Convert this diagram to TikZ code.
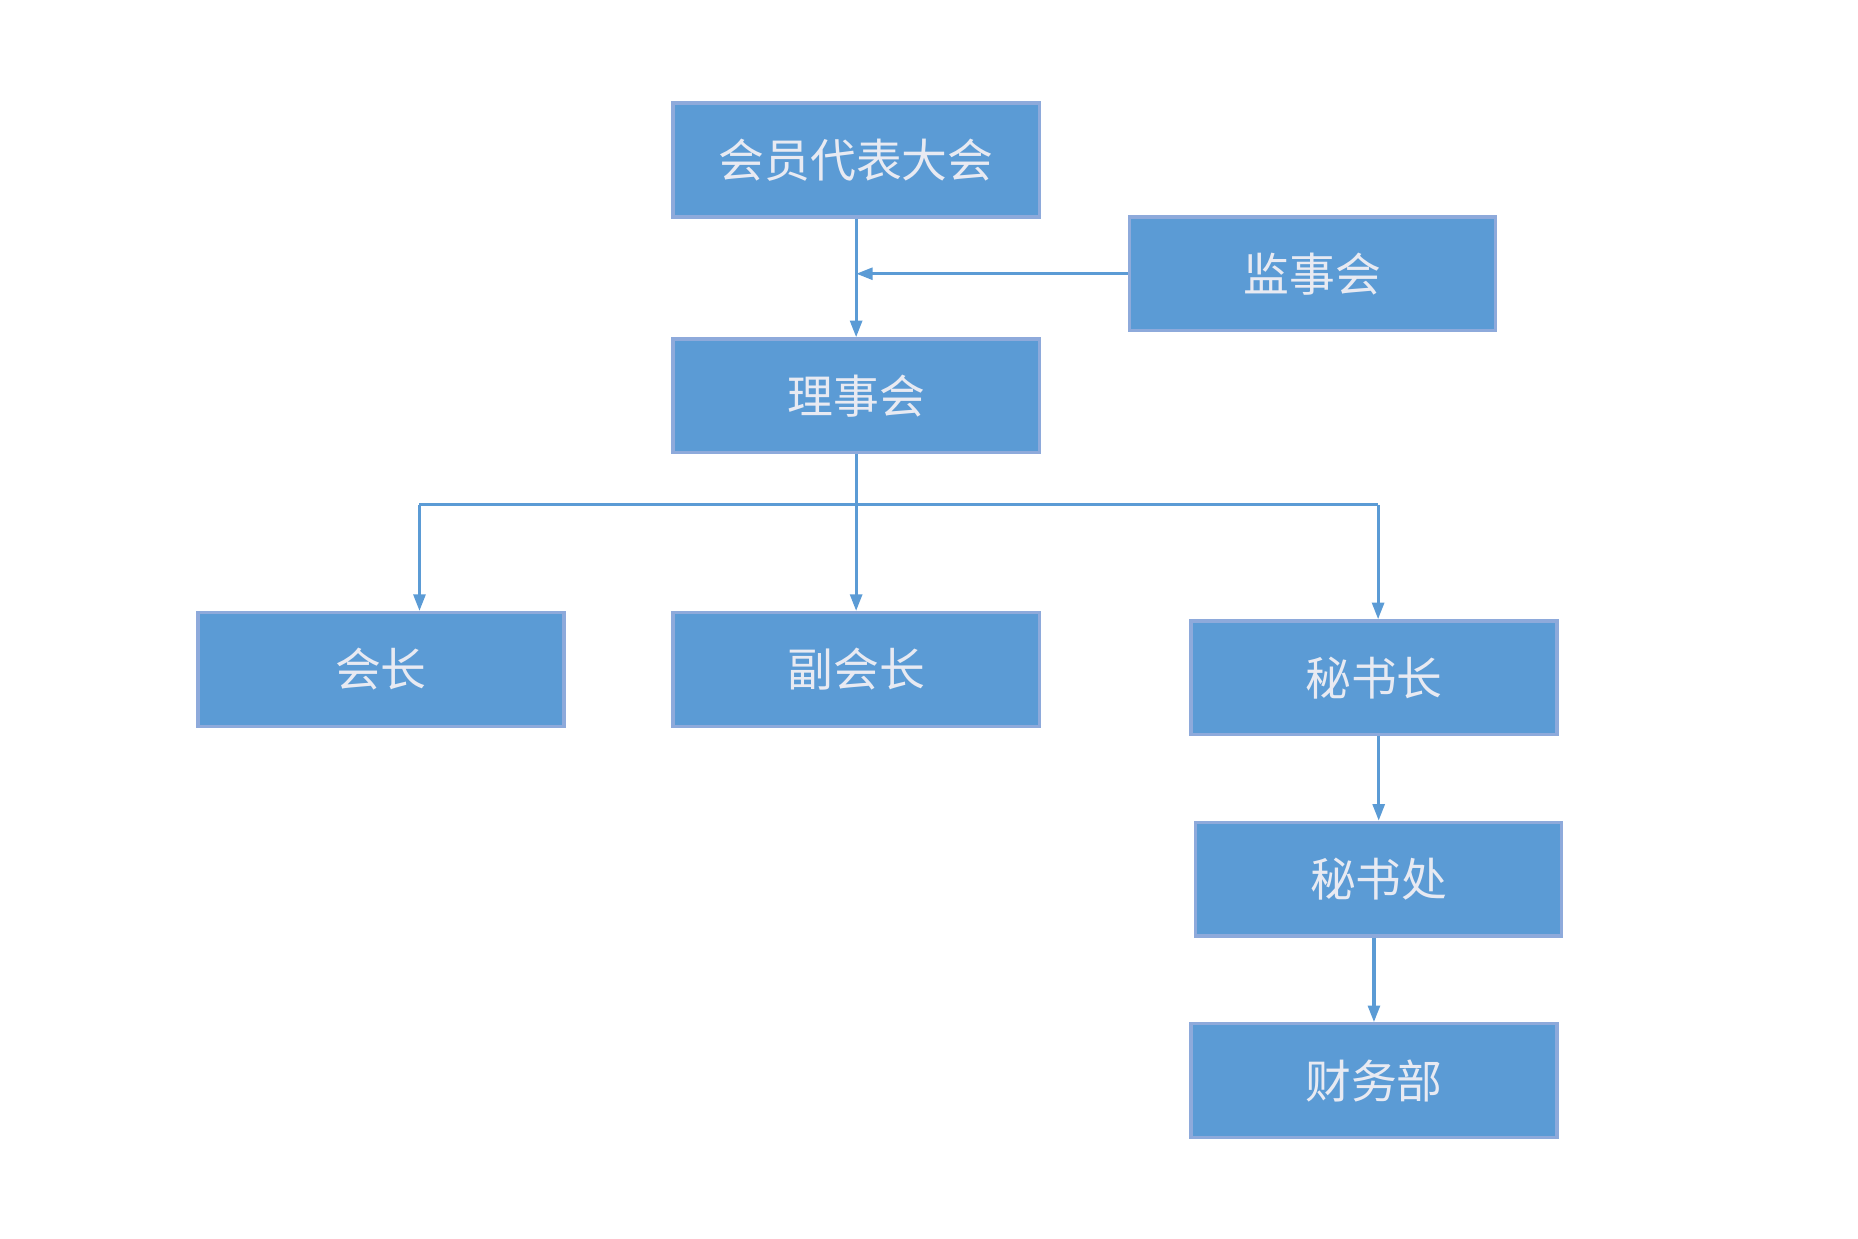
\documentclass[tikz,border=0pt]{standalone}
\usepackage{fontspec}
\setmainfont{Noto Sans CJK SC}
\usetikzlibrary{arrows.meta}
\definecolor{boxblue}{HTML}{5B9BD5}
\definecolor{boxedge}{HTML}{8EAADB}
\definecolor{boxtext}{HTML}{E8EAF2}
\tikzset{
unit/.style={draw=boxedge,line width=1.6pt,fill=boxblue,text=boxtext,
  minimum width=6.18cm,minimum height=1.92cm,inner sep=0pt,
  font=\fontsize{22}{26}\selectfont},
link/.style={draw=boxblue,line width=1.5pt,-{Triangle[length=0.28cm,width=0.2cm]}},
plain/.style={draw=boxblue,line width=1.5pt}
}
\begin{document}
\begin{tikzpicture}[x=0.02cm,y=-0.02cm]
\useasboundingbox (0,0) rectangle (1568,1045);

\node[unit] (dahui) at (722.5,135) {会员代表大会};
\node[unit] (jianshi) at (1107.5,231) {监事会};
\node[unit] (lishi) at (722.5,334) {理事会};
\node[unit] (huizhang) at (321.5,565) {会长};
\node[unit] (fuhui) at (722.5,565) {副会长};
\node[unit] (mishuzhang) at (1159.5,572) {秘书长};
\node[unit] (mishuchu) at (1163.5,742) {秘书处};
\node[unit] (caiwu) at (1159.5,912) {财务部};

\coordinate (fl) at (354,426);
\coordinate (fr) at (1163,426);

\draw[link] (dahui) -- (lishi);
\draw[link] (jianshi.west) -- (jianshi.west -| dahui.south);
\draw[link] (lishi) -- (fuhui);
\draw[plain] (fl) -- (fr);
\draw[link] (fl) -- (fl |- huizhang.north);
\draw[link] (fr) -- (fr |- mishuzhang.north);
\draw[link] (mishuzhang.south -| mishuchu) -- (mishuchu.north);
\draw[link] (mishuchu.south -| caiwu) -- (caiwu.north);
\end{tikzpicture}
\end{document}
